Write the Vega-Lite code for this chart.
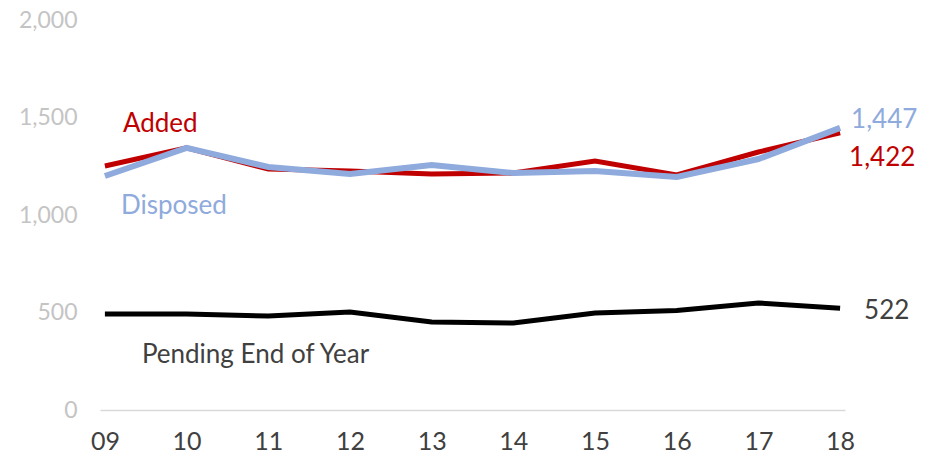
{
  "$schema": "https://vega.github.io/schema/vega-lite/v6.json",
  "width": 745,
  "height": 390,
  "autosize": "none",
  "padding": {"left": 100, "top": 20, "right": 86, "bottom": 53},
  "background": "white",
  "config": {"view": {"stroke": null}, "font": "Lato"},
  "data": {
    "values": [
      {"year": "09", "series": "Pending", "value": 492},
      {"year": "10", "series": "Pending", "value": 492},
      {"year": "11", "series": "Pending", "value": 482},
      {"year": "12", "series": "Pending", "value": 502},
      {"year": "13", "series": "Pending", "value": 451},
      {"year": "14", "series": "Pending", "value": 446},
      {"year": "15", "series": "Pending", "value": 497},
      {"year": "16", "series": "Pending", "value": 510},
      {"year": "17", "series": "Pending", "value": 549},
      {"year": "18", "series": "Pending", "value": 522},
      {"year": "09", "series": "Added", "value": 1251},
      {"year": "10", "series": "Added", "value": 1344},
      {"year": "11", "series": "Added", "value": 1236},
      {"year": "12", "series": "Added", "value": 1226},
      {"year": "13", "series": "Added", "value": 1210},
      {"year": "14", "series": "Added", "value": 1215},
      {"year": "15", "series": "Added", "value": 1277},
      {"year": "16", "series": "Added", "value": 1205},
      {"year": "17", "series": "Added", "value": 1323},
      {"year": "18", "series": "Added", "value": 1422},
      {"year": "09", "series": "Disposed", "value": 1200},
      {"year": "10", "series": "Disposed", "value": 1344},
      {"year": "11", "series": "Disposed", "value": 1246},
      {"year": "12", "series": "Disposed", "value": 1210},
      {"year": "13", "series": "Disposed", "value": 1256},
      {"year": "14", "series": "Disposed", "value": 1215},
      {"year": "15", "series": "Disposed", "value": 1226},
      {"year": "16", "series": "Disposed", "value": 1195},
      {"year": "17", "series": "Disposed", "value": 1287},
      {"year": "18", "series": "Disposed", "value": 1447}
    ]
  },
  "encoding": {
    "x": {
      "field": "year", "type": "ordinal",
      "scale": {"type": "point", "padding": 0.06},
      "axis": {
        "title": null, "labelAngle": 0, "ticks": false,
        "domainColor": "#d9d9d9", "domainWidth": 1.5,
        "labelFontSize": 25, "labelColor": "#404040", "labelPadding": 19
      }
    },
    "y": {
      "field": "value", "type": "quantitative",
      "scale": {"domain": [0, 2000], "nice": false},
      "axis": {
        "title": null, "grid": false, "domain": false, "ticks": false,
        "values": [0, 500, 1000, 1500, 2000], "format": ",.0f",
        "labelFontSize": 23, "labelColor": "#c4c4c4", "labelPadding": 23
      }
    },
    "color": {
      "field": "series", "type": "nominal",
      "scale": {"domain": ["Pending", "Added", "Disposed"], "range": ["#000000", "#c00000", "#8faadc"]},
      "legend": null
    }
  },
  "layer": [
    {"transform": [{"filter": "datum.series === 'Pending'"}], "mark": {"type": "line", "strokeWidth": 5}},
    {"transform": [{"filter": "datum.series === 'Added'"}], "mark": {"type": "line", "strokeWidth": 5}},
    {"transform": [{"filter": "datum.series === 'Disposed'"}], "mark": {"type": "line", "strokeWidth": 6}},
    {
      "transform": [{"filter": "datum.series === 'Added' && datum.year === '09'"}],
      "mark": {"type": "text", "align": "left", "baseline": "middle", "fontSize": 26, "dx": 18, "dy": -42, "text": "Added"}
    },
    {
      "transform": [{"filter": "datum.series === 'Disposed' && datum.year === '09'"}],
      "mark": {"type": "text", "align": "left", "baseline": "middle", "fontSize": 26, "dx": 16, "dy": 30, "text": "Disposed"}
    },
    {
      "transform": [{"filter": "datum.series === 'Pending' && datum.year === '09'"}],
      "mark": {"type": "text", "align": "left", "baseline": "middle", "fontSize": 26, "dx": 37, "dy": 41, "text": "Pending End of Year"},
      "encoding": {"color": {"value": "#404040"}}
    },
    {
      "transform": [{"filter": "datum.series === 'Disposed' && datum.year === '18'"}],
      "mark": {"type": "text", "align": "left", "baseline": "middle", "fontSize": 26, "dx": 11, "dy": -8},
      "encoding": {"text": {"field": "value", "type": "quantitative", "format": ",.0f"}}
    },
    {
      "transform": [{"filter": "datum.series === 'Added' && datum.year === '18'"}],
      "mark": {"type": "text", "align": "left", "baseline": "middle", "fontSize": 26, "dx": 9, "dy": 25},
      "encoding": {"text": {"field": "value", "type": "quantitative", "format": ",.0f"}}
    },
    {
      "transform": [{"filter": "datum.series === 'Pending' && datum.year === '18'"}],
      "mark": {"type": "text", "align": "left", "baseline": "middle", "fontSize": 26, "dx": 24, "dy": 3},
      "encoding": {"text": {"field": "value", "type": "quantitative", "format": ",.0f"}, "color": {"value": "#404040"}}
    }
  ]
}
